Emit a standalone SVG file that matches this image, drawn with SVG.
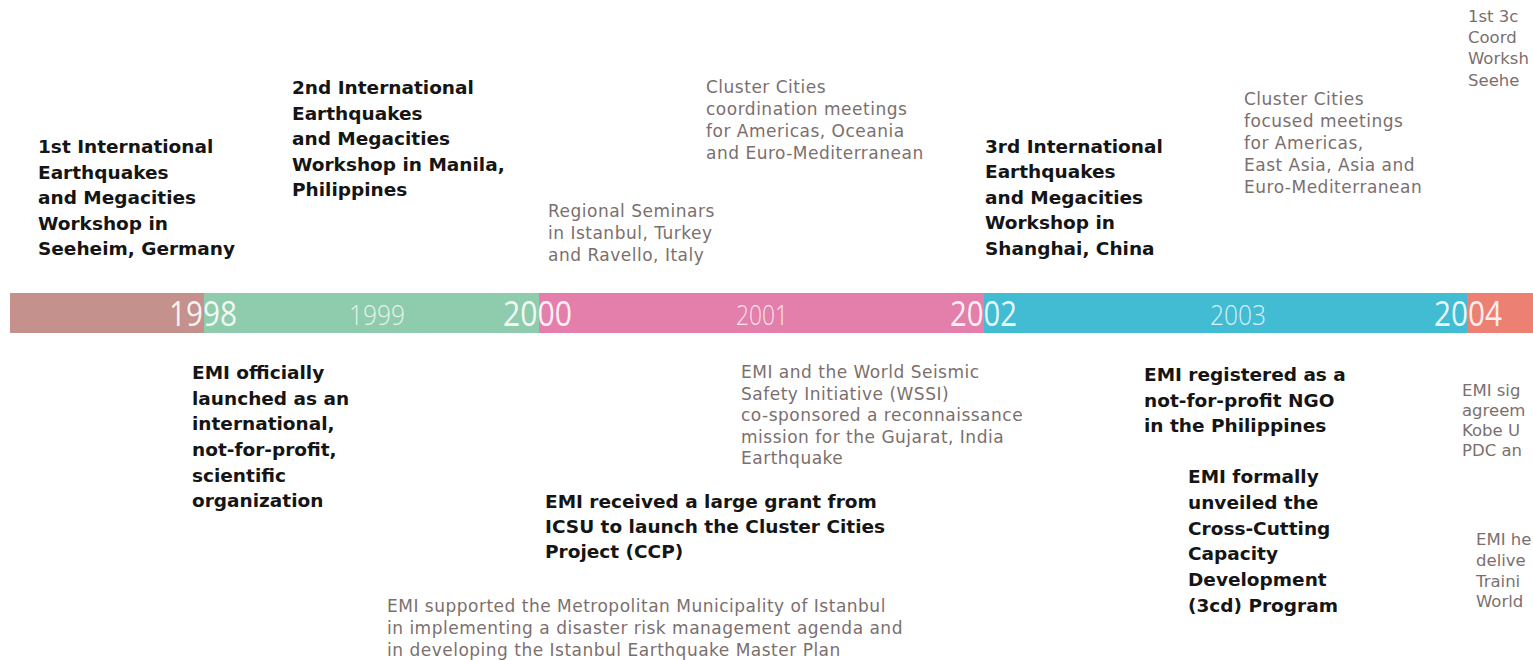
<svg xmlns="http://www.w3.org/2000/svg" width="1533" height="660" viewBox="0 0 1533 660">
<style>
.b{font-family:"DejaVu Sans","Liberation Sans",sans-serif;font-weight:bold;font-size:18.5px;fill:#151515}
.g{font-family:"DejaVu Sans","Liberation Sans",sans-serif;font-size:17px;letter-spacing:0.5px;fill:#7b6f6e}
.edge{font-size:16.5px;letter-spacing:0}
.yb{font-family:"Open Sans","DejaVu Sans",sans-serif;font-weight:400;font-size:35px;fill:#ffffff;fill-opacity:0.9}
.ys{font-family:"Open Sans","DejaVu Sans",sans-serif;font-weight:300;font-size:28px;fill:#ffffff;fill-opacity:0.8}
</style>
<rect width="1533" height="660" fill="#ffffff"/>
<g id="timeline">
<rect x="10" y="293" width="194" height="40" fill="#c4918c"/>
<rect x="204" y="293" width="335" height="40" fill="#8fcbad"/>
<rect x="539" y="293" width="445" height="40" fill="#e47fab"/>
<rect x="984" y="293" width="483" height="40" fill="#41bcd3"/>
<rect x="1467" y="293" width="66" height="40" fill="#ec8173"/>
<text class="yb" x="169" y="326" textLength="68" lengthAdjust="spacingAndGlyphs">1998</text>
<text class="ys" x="349" y="325" textLength="56" lengthAdjust="spacingAndGlyphs">1999</text>
<text class="yb" x="503" y="326" textLength="69" lengthAdjust="spacingAndGlyphs">2000</text>
<text class="ys" x="736" y="325" textLength="52" lengthAdjust="spacingAndGlyphs">2001</text>
<text class="yb" x="950" y="326" textLength="67" lengthAdjust="spacingAndGlyphs">2002</text>
<text class="ys" x="1210" y="325" textLength="56" lengthAdjust="spacingAndGlyphs">2003</text>
<text class="yb" x="1434" y="326" textLength="68" lengthAdjust="spacingAndGlyphs">2004</text>
</g>
<g id="connectors"/>
<g id="ev-1998-workshop">
<text class="b"><tspan x="38" y="153">1st International</tspan><tspan x="38" y="179">Earthquakes</tspan><tspan x="38" y="204">and Megacities</tspan><tspan x="38" y="230">Workshop in</tspan><tspan x="38" y="255">Seeheim, Germany</tspan></text>
</g>
<g id="ev-1999-manila">
<text class="b"><tspan x="292" y="94">2nd International</tspan><tspan x="292" y="120">Earthquakes</tspan><tspan x="292" y="145">and Megacities</tspan><tspan x="292" y="171">Workshop in Manila,</tspan><tspan x="292" y="196">Philippines</tspan></text>
</g>
<g id="ev-2000-seminars">
<text class="g"><tspan x="548" y="217">Regional Seminars</tspan><tspan x="548" y="239">in Istanbul,  Turkey</tspan><tspan x="548" y="261">and Ravello, Italy</tspan></text>
</g>
<g id="ev-2001-coordination">
<text class="g"><tspan x="706" y="93">Cluster Cities</tspan><tspan x="706" y="115">coordination meetings</tspan><tspan x="706" y="137">for Americas, Oceania</tspan><tspan x="706" y="159">and Euro-Mediterranean</tspan></text>
</g>
<g id="ev-2002-shanghai">
<text class="b"><tspan x="985" y="153">3rd International</tspan><tspan x="985" y="178">Earthquakes</tspan><tspan x="985" y="204">and Megacities</tspan><tspan x="985" y="229">Workshop in</tspan><tspan x="985" y="255">Shanghai, China</tspan></text>
</g>
<g id="ev-2003-focused">
<text class="g"><tspan x="1244" y="105">Cluster Cities</tspan><tspan x="1244" y="127">focused meetings</tspan><tspan x="1244" y="149">for Americas,</tspan><tspan x="1244" y="171">East Asia, Asia and</tspan><tspan x="1244" y="193">Euro-Mediterranean</tspan></text>
</g>
<g id="ev-2004-3cd-workshop">
<text class="g edge"><tspan x="1468" y="22">1st 3c</tspan><tspan x="1468" y="43">Coord</tspan><tspan x="1468" y="64">Worksh</tspan><tspan x="1468" y="86">Seehe</tspan></text>
</g>
<g id="ev-1998-launch">
<text class="b"><tspan x="192" y="379">EMI officially</tspan><tspan x="192" y="405">launched as an</tspan><tspan x="192" y="430">international,</tspan><tspan x="192" y="456">not-for-profit,</tspan><tspan x="192" y="482">scientific</tspan><tspan x="192" y="507">organization</tspan></text>
</g>
<g id="ev-2001-wssi">
<text class="g"><tspan x="741" y="378">EMI and the World Seismic</tspan><tspan x="741" y="400">Safety Initiative (WSSI)</tspan><tspan x="741" y="421">co-sponsored a reconnaissance</tspan><tspan x="741" y="443">mission for the Gujarat, India</tspan><tspan x="741" y="464">Earthquake</tspan></text>
</g>
<g id="ev-2000-grant">
<text class="b"><tspan x="545" y="508">EMI received a large grant from</tspan><tspan x="545" y="533">ICSU to launch the Cluster Cities</tspan><tspan x="545" y="558">Project (CCP)</tspan></text>
</g>
<g id="ev-2000-istanbul">
<text class="g"><tspan x="387" y="612">EMI supported the Metropolitan Municipality of Istanbul</tspan><tspan x="387" y="634">in implementing a disaster risk management agenda and</tspan><tspan x="387" y="656">in developing the Istanbul Earthquake Master Plan</tspan></text>
</g>
<g id="ev-2003-ngo">
<text class="b"><tspan x="1144" y="381">EMI registered as a</tspan><tspan x="1144" y="407">not-for-profit NGO</tspan><tspan x="1144" y="432">in the Philippines</tspan></text>
</g>
<g id="ev-2003-3cd">
<text class="b"><tspan x="1188" y="483">EMI formally</tspan><tspan x="1188" y="509">unveiled the</tspan><tspan x="1188" y="535">Cross-Cutting</tspan><tspan x="1188" y="560">Capacity</tspan><tspan x="1188" y="586">Development</tspan><tspan x="1188" y="612">(3cd) Program</tspan></text>
</g>
<g id="ev-2004-agreement">
<text class="g edge"><tspan x="1462" y="396">EMI sig</tspan><tspan x="1462" y="416">agreem</tspan><tspan x="1462" y="436">Kobe U</tspan><tspan x="1462" y="456">PDC an</tspan></text>
</g>
<g id="ev-2004-training">
<text class="g edge"><tspan x="1476" y="545">EMI he</tspan><tspan x="1476" y="566">delive</tspan><tspan x="1476" y="587">Traini</tspan><tspan x="1476" y="607">World</tspan></text>
</g>
</svg>
